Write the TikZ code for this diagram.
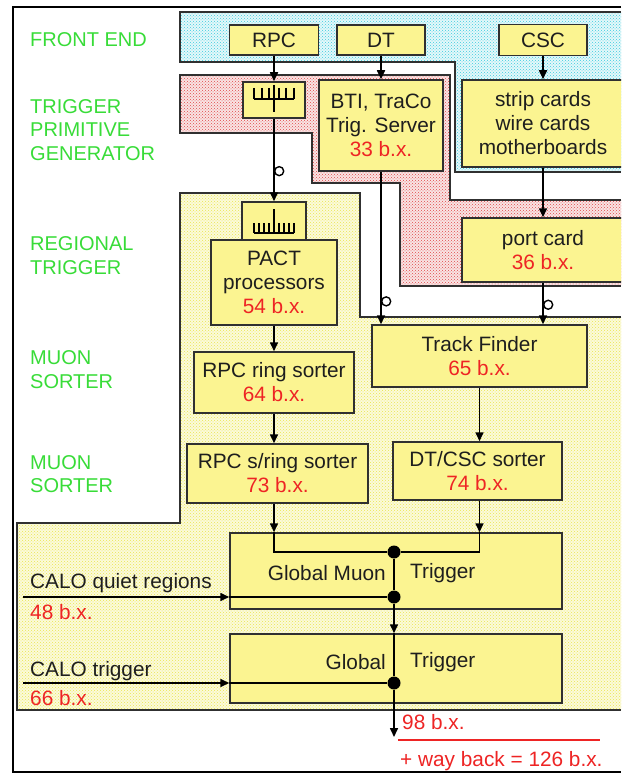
\documentclass[tikz,border=0pt]{standalone}
\usepackage{fontspec}
\setmainfont{Liberation Sans}
\usepackage{xcolor}
\usepackage{tikz}
\usetikzlibrary{arrows.meta,patterns}
\definecolor{boxyellow}{HTML}{FBF491}
\definecolor{lblgreen}{HTML}{38DC38}
\definecolor{bxred}{HTML}{EE2424}
\definecolor{edge}{HTML}{303030}
\definecolor{ink}{HTML}{1E1E1E}
\definecolor{cyanbg}{HTML}{E4F8FA}
\definecolor{cyandot}{HTML}{3CCCDE}
\definecolor{redbg}{HTML}{F9E4E4}
\definecolor{reddot}{HTML}{E04848}
\definecolor{yellowbg}{HTML}{FBFADA}
\definecolor{yellowdot}{HTML}{EAE650}
\newcommand{\bx}[1]{\textcolor{bxred}{#1 b.x.}}

\begin{document}
\begin{tikzpicture}[x=1pt, y=-1pt,
  box/.style={draw=edge, line width=1.5pt, fill=boxyellow, inner sep=0pt, text=ink,
              align=center, font=\fontsize{20.8}{24}\selectfont},
  zonelabel/.style={anchor=west, align=left, text=lblgreen, inner sep=0pt,
                    font=\fontsize{20}{23.5}\selectfont},
  plain/.style={inner sep=0pt, text=ink, font=\fontsize{20.8}{24}\selectfont},
  zoneline/.style={draw=edge, line width=1.2pt},
  cyanzone/.style={preaction={fill=cyanbg}, pattern=crosshatch dots, pattern color=cyandot},
  redzone/.style={preaction={fill=redbg}, pattern=crosshatch dots, pattern color=reddot},
  yellowzone/.style={preaction={fill=yellowbg}, pattern=crosshatch dots, pattern color=yellowdot},
  arrow/.style={-{Triangle[length=9pt, width=8pt]}, line width=1.6pt},
  wire/.style={line width=1.6pt},
  junction/.style={circle, fill=black, inner sep=0pt, minimum size=13pt},
  loopmark/.style={circle, draw, line width=1.4pt, fill=white, inner sep=0pt,
                   minimum size=9pt, anchor=west},
  combline/.style={line width=1.4pt}
]
  \fill[white] (0,0) rectangle (621,773);
  \useasboundingbox (0,0) rectangle (621,773);
  \clip (0,0) rectangle (621,773);

  % shaded zones
  \path[cyanzone] (180,12) -- (621,12) -- (621,172) -- (455,172) -- (455,62) -- (180,62) -- cycle;
  \draw[zoneline] (621,12) -- (180,12) -- (180,62) -- (455,62) -- (455,172) -- (621,172);
  \path[redzone] (180,75) -- (450,75) -- (450,200) -- (621,200) -- (621,286) -- (400,286)
    -- (400,183) -- (312,183) -- (312,133) -- (180,133) -- cycle;
  \draw[zoneline] (621,200) -- (450,200) -- (450,75) -- (180,75) -- (180,133) -- (312,133)
    -- (312,183) -- (400,183) -- (400,286) -- (621,286);
  \path[yellowzone] (180,193) -- (360,193) -- (360,317) -- (621,317) -- (621,710) -- (17,710)
    -- (17,523) -- (180,523) -- cycle;
  \draw[zoneline] (621,317) -- (360,317) -- (360,193) -- (180,193) -- (180,523) -- (17,523)
    -- (17,710) -- (621,710);
  \draw[line width=2.5pt] (621,7) -- (13,7) -- (13,772) -- (621,772);

  % zone names
  \node[zonelabel] (lfe) at (30,40) {FRONT END};
  \node[zonelabel] (ltpg) at (30,130) {TRIGGER\\PRIMITIVE\\GENERATOR};
  \node[zonelabel] (lreg) at (30,255.5) {REGIONAL\\TRIGGER};
  \node[zonelabel] (lms1) at (30,369.5) {MUON\\SORTER};
  \node[zonelabel] (lms2) at (30,474) {MUON\\SORTER};

  % boxes
  \node[box, minimum width=89pt, minimum height=30pt] (rpc) at (274,40) {RPC};
  \node[box, minimum width=88pt, minimum height=30pt] (dt) at (381,40) {DT};
  \node[box, minimum width=88pt, minimum height=31pt] (csc) at (543,40) {CSC};
  \node[box, minimum width=62pt, minimum height=36pt] (rpccomb) at (274,100) {};
  \node[box, minimum width=124pt, minimum height=91pt] (bti) at (381,125.5)
    {BTI, TraCo\\Trig. Server\\\bx{33}};
  \node[box, minimum width=162pt, minimum height=87pt] (strip) at (543,123.5)
    {strip cards\\wire cards\\motherboards};
  \node[box, minimum width=64pt, minimum height=38pt] (pactcomb) at (274,221) {};
  \node[box, minimum width=126pt, minimum height=85pt] (pact) at (274,282.5)
    {PACT\\processors\\\bx{54}};
  \node[box, minimum width=162pt, minimum height=64pt] (port) at (543,250)
    {port card\\\bx{36}};
  \node[box, minimum width=215pt, minimum height=62pt] (tf) at (479.5,356)
    {Track Finder\\\bx{65}};
  \node[box, minimum width=160pt, minimum height=61pt] (rrs) at (274,382.5)
    {RPC ring sorter\\\bx{64}};
  \node[box, minimum width=181pt, minimum height=59pt] (srs) at (277.5,473.5)
    {RPC s/ring sorter\\\bx{73}};
  \node[box, minimum width=169pt, minimum height=58pt] (dtcsc) at (477.5,471)
    {DT/CSC sorter\\\bx{74}};
  \node[box, minimum width=332pt, minimum height=76pt] (gmt) at (396,571) {};
  \node[box, minimum width=332pt, minimum height=69pt] (gt) at (396,668.5) {};

  % combs
  \begin{scope}[shift={(rpccomb.center)}]
    \draw[combline] (-20,-1) -- (20,-1);
    \foreach \t in {-20,-12,-5,5,12,20}
      \draw[combline] (\t,-12) -- (\t,-1);
    \draw[combline] (0,-15) -- (0,12);
  \end{scope}
  \begin{scope}[shift={(pactcomb.center)}]
    \draw[combline] (-20,12) -- (20,12);
    \foreach \t in {-20,-15,-10,-5,5,10,15,20}
      \draw[combline] (\t,2) -- (\t,12);
    \draw[combline] (0,-12) -- (0,12);
  \end{scope}

  % texts inside the global boxes
  \node[plain, anchor=east] (gmtl) at (386,573) {Global Muon};
  \node[plain, anchor=west] (gmtr) at (410,573) {Trigger};
  \node[plain, anchor=east] (gtl) at (386,662) {Global};
  \node[plain, anchor=west] (gtr) at (410,662) {Trigger};

  % junctions
  \node[junction] (dmu) at (394,552) {};
  \node[junction] (dcq) at (394,597) {};
  \node[junction] (dgt) at (394,683) {};
  \coordinate (caloq) at (23,597);
  \coordinate (calot) at (23,683);
  \coordinate (out) at (394,737);

  % connectors
  \draw[arrow] (rpc.south) -- (rpccomb.north);
  \draw[arrow] (rpccomb.south) -- node[loopmark, pos=0.635] {} (pactcomb.north);
  \draw[arrow] (dt.south) -- (bti.north);
  \draw[arrow] (bti.south) -- node[loopmark, pos=0.85] {} (bti.south |- tf.north);
  \draw[arrow] (csc.south) -- (strip.north);
  \draw[arrow] (strip.south) -- (port.north);
  \draw[arrow] (port.south) -- node[loopmark, pos=0.53] {} (port.south |- tf.north);
  \draw[arrow] (pact.south) -- (rrs.north);
  \draw[arrow] (rrs.south) -- (rrs.south |- srs.north);
  \draw[arrow] (tf.south) -- (tf.south |- dtcsc.north);
  \draw[arrow] (rrs.south |- srs.south) -- (rrs.south |- gmt.north);
  \draw[arrow] (tf.south |- dtcsc.south) -- (tf.south |- gmt.north);
  \draw[wire] (rrs.south |- gmt.north) |- (dmu);
  \draw[wire] (tf.south |- gmt.north) |- (dmu);
  \draw[wire] (dmu) -- (dcq);
  \draw[arrow] (caloq) -- (caloq -| gmt.west);
  \draw[wire] (caloq -| gmt.west) -- (dcq);
  \draw[arrow] (dcq) -- (dcq |- gt.north);
  \draw[wire] (dcq |- gt.north) -- (dgt);
  \draw[arrow] (calot) -- (calot -| gt.west);
  \draw[wire] (calot -| gt.west) -- (dgt);
  \draw[arrow] (dgt) -- (out);

  % inputs and totals
  \node[plain, anchor=base west] (caloqt) at (30,588) {CALO quiet regions};
  \node[plain, anchor=base west] (caloqbx) at (30,619) {\bx{48}};
  \node[plain, anchor=base west] (calott) at (30,676) {CALO trigger};
  \node[plain, anchor=base west] (calotbx) at (30,705) {\bx{66}};
  \node[plain, anchor=base west] (total) at (402,729) {\bx{98}};
  \node[plain, anchor=base west, text=bxred] (wayback) at (400,766) {+ way back = 126 b.x.};
  \draw[bxred, line width=1.5pt] (398,740) -- (600,740);
\end{tikzpicture}
\end{document}
